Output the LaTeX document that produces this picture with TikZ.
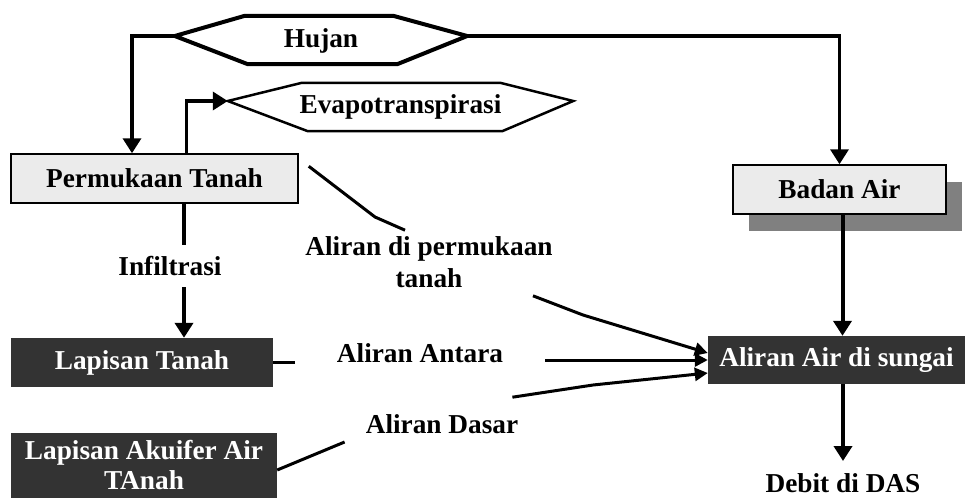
\documentclass[tikz,border=0pt]{standalone}
\usepackage{fontspec}
\setmainfont{Liberation Serif}
\usetikzlibrary{arrows.meta,shadows}

\begin{document}
\begin{tikzpicture}[x=1pt,y=-1pt,font={\fontsize{27.3}{32}\selectfont\bfseries}]
\tikzstyle{Block} = [draw, fill=black!8, line width=1.5, minimum height=49, inner sep=0, text=black]
\tikzstyle{Dark} = [fill=black!80, minimum height=49, inner sep=0, text=white, align=center]
\tikzstyle{Hex} = [inner sep=0, minimum height=48, text depth=0pt]
\tikzstyle{Txt} = [inner sep=0, align=center]
\tikzstyle{Arr} = [-{Triangle[length=13pt,width=13pt]}, line width=3]
\tikzstyle{BigArr} = [-{Triangle[length=15pt,width=18pt]}, line width=3.5]
\useasboundingbox (0,0) rectangle (966,499);
\node [Block, minimum width=287] (v1) at (154.5,178.5) {Permukaan Tanah};
\node [Block, minimum width=213, drop shadow={shadow xshift=16pt, shadow yshift=-17pt, fill=black!50, opacity=1}] (v3) at (839.5,189.5) {Badan Air};
\node [Dark, minimum width=262] (v4) at (142,362.5) {Lapisan Tanah};
\node [Dark, minimum width=266, minimum height=65] (v5) at (144,465.5) {Lapisan Akuifer Air\\[-2pt]TAnah};
\node [Dark, minimum width=257, minimum height=48] (v6) at (836.5,360) {Aliran Air di sungai};
\node [Hex, minimum width=292] (v7) at (321,38) {Hujan};
\node [Hex, minimum width=345] (v8) at (400.5,104) {Evapotranspirasi};
\node [Txt, minimum height=42] (v9) at (170,266) {Infiltrasi};
\node [Txt] (v10) at (429,262) {Aliran di permukaan\\tanah};
\node [Txt, inner xsep=42] (v11) at (420,353) {Aliran Antara};
\node [Txt] (v12) at (442,424) {Aliran Dasar};
\node [Txt, anchor=north, inner ysep=12] (v13) at (843,461) {Debit di DAS};
\coordinate (b1) at (375,217);
\coordinate (b2) at (583,315);
\coordinate (b3) at (593,385);
% hexagons
\draw [line width=4] ([yshift=2]v7.west) -- ([xshift=70,yshift=-2]v7.north west) -- ([xshift=-74,yshift=-2]v7.north east) -- ([yshift=2]v7.east) -- ([xshift=-70,yshift=-2]v7.south east) -- ([xshift=73,yshift=-2]v7.south west) -- cycle;
\draw [line width=2.5] ([yshift=3]v8.west) -- ([xshift=74,yshift=-3]v8.north west) -- ([xshift=-73,yshift=-3]v8.north east) -- ([yshift=3]v8.east) -- ([xshift=-71,yshift=-3]v8.south east) -- ([xshift=80,yshift=-3]v8.south west) -- cycle;
\draw [BigArr] ([yshift=2]v7.west) -| ([xshift=-22.5]v1.north);
\draw [BigArr] ([yshift=2]v7.east) -| (v3.north);
\draw [BigArr] ([xshift=32]v1.north) |- ([yshift=3]v8.west);
\draw [line width=4] ([xshift=29]v1.south) -- ([xshift=29]v1.south |- v9.north);
\draw [BigArr, line width=4] ([xshift=42]v4.north |- v9.south) -- ([xshift=42]v4.north);
\draw [line width=3] ([xshift=10,yshift=-13]v1.north east) -- (b1) -- ([xshift=-24,yshift=6]v10.north);
\draw [Arr] ([xshift=104,yshift=-8]v10.south) -- (b2) -- ([yshift=7]v6.west);
\draw [line width=3] (v4.east) -- (v4.east -| v11.west);
\draw [Arr] (v11.east |- v6.west) -- (v6.west);
\draw [line width=3] ([yshift=-4.5]v5.east) -- ([xshift=-21,yshift=-18]v12.west);
\draw [Arr] ([xshift=-6,yshift=17]v12.north east) -- (b3) -- ([yshift=-13]v6.west);
\draw [BigArr, line width=4] ([xshift=3]v3.south) -- ([xshift=3]v3.south |- v6.north);
\draw [BigArr, line width=4] ([xshift=6.5]v6.south) -- (v13.north);
\end{tikzpicture}
\end{document}
